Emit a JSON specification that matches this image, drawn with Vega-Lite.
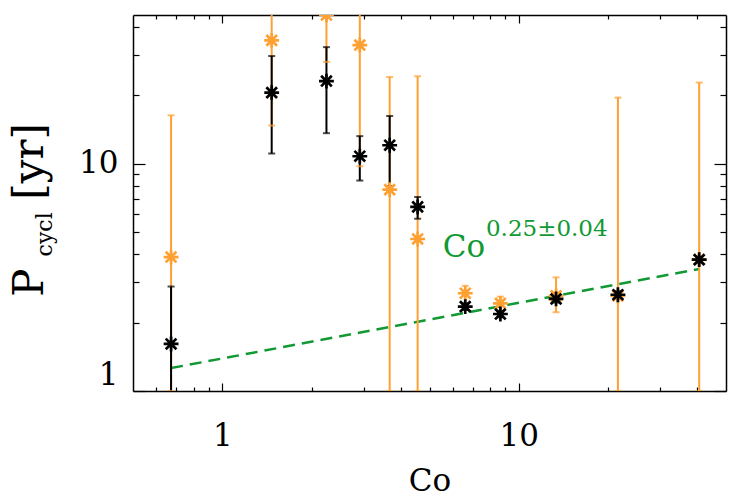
{
  "$schema": "https://vega.github.io/schema/vega-lite/v6.json",
  "width": 593,
  "height": 376,
  "autosize": {"type": "none"},
  "padding": {"left": 133, "top": 15, "right": 21, "bottom": 106},
  "background": "white",
  "config": {
    "view": {"stroke": null},
    "axis": {
      "domainColor": "black", "domainWidth": 1.5,
      "tickColor": "black", "tickWidth": 1.2, "grid": false, "ticks": true,
      "labelFont": "DejaVu Serif", "labelFontSize": 31, "labelColor": "black",
      "titleFont": "DejaVu Serif", "titleFontWeight": "normal", "titleColor": "black",
      "labelOverlap": false
    }
  },
  "datasets": {
    "pts": [
      {"Co": 0.672, "P": 3.88, "lo": 1.0, "hi": 16.3, "s": "orange"},
      {"Co": 1.468, "P": 34.8, "lo": 14.7, "hi": 80, "s": "orange"},
      {"Co": 2.246, "P": 45.0, "lo": 28, "hi": 90, "s": "orange"},
      {"Co": 2.91, "P": 33.2, "lo": 9.73, "hi": 90, "s": "orange"},
      {"Co": 3.67, "P": 7.68, "lo": 1.0, "hi": 24.0, "s": "orange"},
      {"Co": 4.56, "P": 4.66, "lo": 1.0, "hi": 24.2, "s": "orange"},
      {"Co": 6.60, "P": 2.69, "lo": 2.42, "hi": 2.90, "s": "orange"},
      {"Co": 8.67, "P": 2.43, "lo": 2.25, "hi": 2.60, "s": "orange"},
      {"Co": 13.36, "P": 2.62, "lo": 2.22, "hi": 3.16, "s": "orange"},
      {"Co": 21.6, "P": 2.62, "lo": 1.0, "hi": 19.5, "s": "orange"},
      {"Co": 40.6, "P": 3.78, "lo": 1.0, "hi": 22.7, "s": "orange"},
      {"Co": 0.672, "P": 1.61, "lo": 0.9, "hi": 2.88, "s": "black"},
      {"Co": 1.468, "P": 20.5, "lo": 11.07, "hi": 29.7, "s": "black"},
      {"Co": 2.246, "P": 23.05, "lo": 13.6, "hi": 32.5, "s": "black"},
      {"Co": 2.91, "P": 10.77, "lo": 8.42, "hi": 13.2, "s": "black"},
      {"Co": 3.67, "P": 12.04, "lo": 7.94, "hi": 16.2, "s": "black"},
      {"Co": 4.56, "P": 6.45, "lo": 5.72, "hi": 7.13, "s": "black"},
      {"Co": 6.60, "P": 2.35, "lo": 2.27, "hi": 2.43, "s": "black"},
      {"Co": 8.67, "P": 2.18, "lo": 2.11, "hi": 2.25, "s": "black"},
      {"Co": 13.36, "P": 2.54, "lo": 2.45, "hi": 2.63, "s": "black"},
      {"Co": 21.6, "P": 2.65, "lo": 2.55, "hi": 2.75, "s": "black"},
      {"Co": 40.6, "P": 3.78, "lo": 3.65, "hi": 3.9, "s": "black"}
    ],
    "fit": [
      {"Co": 0.672, "P": 1.261},
      {"Co": 40.6, "P": 3.44}
    ]
  },
  "layer": [
    {
      "data": {"name": "fit"},
      "mark": {"type": "line", "color": "#119933", "strokeWidth": 2.5, "strokeDash": [12, 7], "clip": true},
      "encoding": {
        "x": {"field": "Co", "type": "quantitative",
          "scale": {"type": "log", "domain": [0.5, 50], "nice": false},
          "axis": {"orient": "top", "labels": false, "title": null,
            "values": [0.6, 0.7, 0.8, 0.9, 1, 2, 3, 4, 5, 6, 7, 8, 9, 10, 20, 30, 40],
            "tickSize": {"expr": "datum.value == 1 || datum.value == 10 ? -8 : -4"}}},
        "y": {"field": "P", "type": "quantitative",
          "scale": {"type": "log", "domain": [1, 45], "nice": false},
          "axis": {"orient": "right", "labels": false, "title": null,
            "values": [1, 2, 3, 4, 5, 6, 7, 8, 9, 10, 20, 30, 40],
            "tickSize": {"expr": "datum.value == 1 || datum.value == 10 ? -12 : -6"}}}
      }
    },
    {
      "data": {"name": "pts"},
      "mark": {"type": "rule", "strokeWidth": 2, "clip": true},
      "encoding": {
        "x": {"field": "Co", "type": "quantitative",
          "scale": {"type": "log", "domain": [0.5, 50], "nice": false},
          "axis": {"orient": "top", "offset": -376, "title": "Co", "titleFontSize": 31,
            "titleBaseline": "alphabetic", "titleY": 99,
            "values": [0.6, 0.7, 0.8, 0.9, 1, 2, 3, 4, 5, 6, 7, 8, 9, 10, 20, 30, 40],
            "labelExpr": "datum.value == 1 || datum.value == 10 ? format(datum.value, 'd') : ''",
            "labelBaseline": "alphabetic", "labelPadding": -62,
            "tickSize": {"condition": {"test": "datum.value == 1 || datum.value == 10", "value": 8}, "value": 4}}},
        "y": {"field": "lo", "type": "quantitative",
          "scale": {"type": "log", "domain": [1, 45], "nice": false},
          "axis": {"orient": "right", "offset": -593, "title": null,
            "values": [1, 2, 3, 4, 5, 6, 7, 8, 9, 10, 20, 30, 40],
            "labelExpr": "datum.value == 1 || datum.value == 10 ? format(datum.value, 'd') : ''",
            "labelFlush": true, "labelPadding": -27, "labelAlign": "right",
            "tickSize": {"condition": {"test": "datum.value == 1 || datum.value == 10", "value": 12}, "value": 6}}},
        "y2": {"field": "hi"},
        "color": {"field": "s", "type": "nominal",
          "scale": {"domain": ["orange", "black"], "range": ["#FFA033", "#000000"]}, "legend": null}
      }
    },
    {
      "data": {"name": "pts"},
      "mark": {"type": "tick", "orient": "horizontal", "size": 7, "thickness": 2, "clip": true},
      "encoding": {
        "x": {"field": "Co", "type": "quantitative", "scale": {"type": "log", "domain": [0.5, 50], "nice": false}, "axis": null},
        "y": {"field": "lo", "type": "quantitative", "scale": {"type": "log", "domain": [1, 45], "nice": false}, "axis": null},
        "color": {"field": "s", "type": "nominal", "scale": {"domain": ["orange", "black"], "range": ["#FFA033", "#000000"]}, "legend": null}
      }
    },
    {
      "data": {"name": "pts"},
      "mark": {"type": "tick", "orient": "horizontal", "size": 7, "thickness": 2, "clip": true},
      "encoding": {
        "x": {"field": "Co", "type": "quantitative", "scale": {"type": "log", "domain": [0.5, 50], "nice": false}, "axis": null},
        "y": {"field": "hi", "type": "quantitative", "scale": {"type": "log", "domain": [1, 45], "nice": false}, "axis": null},
        "color": {"field": "s", "type": "nominal", "scale": {"domain": ["orange", "black"], "range": ["#FFA033", "#000000"]}, "legend": null}
      }
    },
    {
      "data": {"name": "pts"},
      "mark": {"type": "point", "shape": "M0,-1L0,1M-1,0L1,0M-0.72,-0.72L0.72,0.72M-0.72,0.72L0.72,-0.72", "filled": false, "strokeWidth": 2.7, "size": 220, "opacity": 1, "clip": true},
      "encoding": {
        "x": {"field": "Co", "type": "quantitative", "scale": {"type": "log", "domain": [0.5, 50], "nice": false}, "axis": null},
        "y": {"field": "P", "type": "quantitative", "scale": {"type": "log", "domain": [1, 45], "nice": false}, "axis": null},
        "color": {"field": "s", "type": "nominal", "scale": {"domain": ["orange", "black"], "range": ["#FFA033", "#000000"]}, "legend": null}
      }
    },
    {
      "data": {"values": [{}]},
      "mark": {"type": "text", "text": "Co", "font": "DejaVu Serif", "fontSize": 31, "color": "#119933", "align": "left", "baseline": "alphabetic"},
      "encoding": {
        "x": {"datum": 5.54, "type": "quantitative", "scale": {"type": "log", "domain": [0.5, 50], "nice": false}, "axis": null},
        "y": {"datum": 3.89, "type": "quantitative", "scale": {"type": "log", "domain": [1, 45], "nice": false}, "axis": null}
      }
    },
    {
      "data": {"values": [{}]},
      "mark": {"type": "text", "text": "0.25±0.04", "font": "DejaVu Serif", "fontSize": 23, "color": "#119933", "align": "left", "baseline": "alphabetic"},
      "encoding": {
        "x": {"datum": 7.75, "type": "quantitative", "scale": {"type": "log", "domain": [0.5, 50], "nice": false}, "axis": null},
        "y": {"datum": 4.78, "type": "quantitative", "scale": {"type": "log", "domain": [1, 45], "nice": false}, "axis": null}
      }
    },
    {
      "data": {"values": [{}]},
      "mark": {"type": "text", "text": "P", "font": "DejaVu Serif", "fontSize": 42, "color": "black", "align": "left", "baseline": "alphabetic", "angle": 270},
      "encoding": {
        "x": {"datum": 0.2495, "type": "quantitative", "scale": {"type": "log", "domain": [0.5, 50], "nice": false}, "axis": null},
        "y": {"datum": 2.595, "type": "quantitative", "scale": {"type": "log", "domain": [1, 45], "nice": false}, "axis": null}
      }
    },
    {
      "data": {"values": [{}]},
      "mark": {"type": "text", "text": "cycl", "font": "DejaVu Serif", "fontSize": 22, "color": "black", "align": "left", "baseline": "alphabetic", "angle": 270},
      "encoding": {
        "x": {"datum": 0.2665, "type": "quantitative", "scale": {"type": "log", "domain": [0.5, 50], "nice": false}, "axis": null},
        "y": {"datum": 3.905, "type": "quantitative", "scale": {"type": "log", "domain": [1, 45], "nice": false}, "axis": null}
      }
    },
    {
      "data": {"values": [{}]},
      "mark": {"type": "text", "text": "[yr]", "font": "DejaVu Serif", "fontSize": 42, "color": "black", "align": "left", "baseline": "alphabetic", "angle": 270},
      "encoding": {
        "x": {"datum": 0.2495, "type": "quantitative", "scale": {"type": "log", "domain": [0.5, 50], "nice": false}, "axis": null},
        "y": {"datum": 6.94, "type": "quantitative", "scale": {"type": "log", "domain": [1, 45], "nice": false}, "axis": null}
      }
    }
  ],
  "resolve": {"axis": {"x": "independent", "y": "independent"}}
}
